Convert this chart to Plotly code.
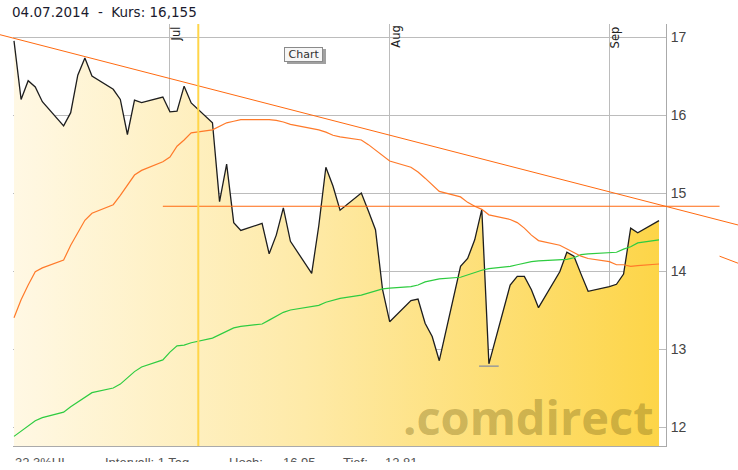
import pandas as pd
import plotly.graph_objects as go

# ---------------- data ----------------
dates = [
    "2014-06-09", "2014-06-10", "2014-06-11", "2014-06-12", "2014-06-13",
    "2014-06-16", "2014-06-17", "2014-06-18", "2014-06-19", "2014-06-20",
    "2014-06-23", "2014-06-24", "2014-06-25", "2014-06-26", "2014-06-27",
    "2014-06-30",
    "2014-07-01", "2014-07-02", "2014-07-03", "2014-07-04",
    "2014-07-07", "2014-07-08", "2014-07-09", "2014-07-10", "2014-07-11",
    "2014-07-14", "2014-07-15", "2014-07-16", "2014-07-17", "2014-07-18",
    "2014-07-21", "2014-07-22", "2014-07-23", "2014-07-24", "2014-07-25",
    "2014-07-28", "2014-07-29", "2014-07-30", "2014-07-31",
    "2014-08-01",
    "2014-08-04", "2014-08-05", "2014-08-06", "2014-08-07", "2014-08-08",
    "2014-08-11", "2014-08-12", "2014-08-13", "2014-08-14", "2014-08-15",
    "2014-08-18", "2014-08-19", "2014-08-20", "2014-08-21", "2014-08-22",
    "2014-08-25", "2014-08-26", "2014-08-27", "2014-08-28", "2014-08-29",
    "2014-09-01", "2014-09-02", "2014-09-03", "2014-09-04", "2014-09-05",
    "2014-09-08",
]
price = [
    16.95, 16.20, 16.44, 16.36, 16.17,
    15.86, 16.03, 16.51, 16.73, 16.50,
    16.33, 16.20, 15.75, 16.19, 16.16,
    16.23,
    16.04, 16.05, 16.37, 16.155,
    15.90, 14.89, 15.37, 14.62, 14.52,
    14.61, 14.22, 14.46, 14.81, 14.38,
    13.97, 14.58, 15.33, 15.09, 14.78,
    15.00, 14.77, 14.53, 13.76,
    13.35,
    13.62, 13.64, 13.33, 13.16, 12.85,
    14.06, 14.16, 14.40, 14.79, 12.81,
    13.82, 13.93, 13.93, 13.76, 13.53,
    13.99, 14.24, 14.19, 13.96, 13.74,
    13.80, 13.83, 13.96, 14.55, 14.49,
    14.645,
]
ma_orange = [
    13.40, 13.63, 13.82, 13.99, 14.04,
    14.14, 14.33, 14.50, 14.65, 14.74,
    14.85, 14.97, 15.10, 15.23, 15.29,
    15.40,
    15.46, 15.60, 15.68, 15.77,
    15.81, 15.85, 15.90, 15.92, 15.94,
    15.94, 15.94, 15.93, 15.91, 15.88,
    15.83, 15.81, 15.78, 15.74, 15.72,
    15.68, 15.62, 15.55, 15.47,
    15.41,
    15.33, 15.27, 15.19, 15.10, 15.02,
    14.95, 14.88, 14.83, 14.79, 14.72,
    14.66, 14.62, 14.55, 14.46, 14.39,
    14.33, 14.28, 14.23, 14.19, 14.16,
    14.12, 14.08, 14.08, 14.06, 14.07,
    14.09,
]
ma_green = [
    11.88, 11.95, 12.01, 12.08, 12.12,
    12.19, 12.26, 12.32, 12.38, 12.44,
    12.50, 12.55, 12.63, 12.71, 12.77,
    12.86,
    12.96, 13.04, 13.05, 13.08,
    13.14, 13.18, 13.23, 13.27, 13.29,
    13.32, 13.37, 13.42, 13.47, 13.50,
    13.55, 13.56, 13.60, 13.63, 13.65,
    13.69, 13.72, 13.74, 13.77,
    13.78,
    13.80, 13.82, 13.86, 13.88, 13.90,
    13.92, 13.95, 13.99, 14.01, 14.03,
    14.06, 14.08, 14.10, 14.12, 14.13,
    14.15, 14.15, 14.17, 14.21, 14.22,
    14.23, 14.24, 14.28, 14.31, 14.36,
    14.40,
]

# drawn trend lines (date, value end points)
resist_dates = ["2014-06-07 00:00", "2014-09-19 03:30"]
resist_vals = [17.03, 14.59]
support_dates = ["2014-06-30 00:00", "2014-09-16 13:00"]
support_vals = [14.83, 14.83]
lower_dates = ["2014-09-16 13:00", "2014-09-19 03:30"]
lower_vals = [14.19, 14.10]

hoch_date, hoch = "2014-06-09", 16.95
tief_date, tief = "2014-08-15", 12.81
cursor_date = "2014-07-05"
header_text = "04.07.2014&nbsp;&nbsp;-&nbsp;&nbsp;Kurs:&nbsp;16,155"

month_ticks = ["2014-07-01", "2014-08-01", "2014-09-01"]
month_labels = ["Jul", "Aug", "Sep"]
y_ticks = [12, 13, 14, 15, 16, 17]
y_labels = ["12", "13", "14", "15", "16", "17"]

# ---------------- geometry ----------------
W, H = 738, 462
PX_DAY = 7.088
X0 = pd.Timestamp("2014-06-09")
X0_PX = 14.0
Y17_PX = 37.0
PX_UNIT = 78.0
L, R, T, B = 13, 666, 24, 446


def px_to_date(px):
    return (X0 + pd.Timedelta(days=(px - X0_PX) / PX_DAY)).strftime("%Y-%m-%d %H:%M:%S")


def py_to_val(py):
    return 17 - (py - Y17_PX) / PX_UNIT


def fx(px):
    return px / W


def fy(py):
    return (H - py) / H


GRID = "#bcbcbc"

fig = go.Figure()

# price area with gradient fill
fig.add_trace(go.Scatter(
    x=dates, y=price, mode="lines",
    line=dict(color="#1e1e1e", width=1.3),
    fill="tozeroy",
    fillgradient=dict(type="horizontal",
                      colorscale=[[0, "#fff8e4"], [0.45, "#feeaa8"], [1, "#fdd548"]]),
    hoverinfo="skip", showlegend=False,
))
fig.add_trace(go.Scatter(
    x=dates, y=ma_green, mode="lines",
    line=dict(color="#2ecc40", width=1.2), hoverinfo="skip", showlegend=False,
))
fig.add_trace(go.Scatter(
    x=dates, y=ma_orange, mode="lines",
    line=dict(color="#ff7a2a", width=1.2), hoverinfo="skip", showlegend=False,
))
# low marker
fig.add_trace(go.Scatter(
    x=[tief_date], y=[tief - 0.03], mode="markers",
    marker=dict(symbol="line-ew", size=14, line=dict(color="#9a9a9a", width=1.5)),
    hoverinfo="skip", showlegend=False,
))

# trend lines on a full-page overlay axis pair
for xs, ys in [(resist_dates, resist_vals), (support_dates, support_vals), (lower_dates, lower_vals)]:
    fig.add_trace(go.Scatter(
        x=xs, y=ys, mode="lines", xaxis="x2", yaxis="y2",
        line=dict(color="#ff6a10", width=1), hoverinfo="skip", showlegend=False,
    ))

fig.add_shape(type="line", xref="x", yref="paper", x0=cursor_date, x1=cursor_date,
              y0=fy(B), y1=fy(T), line=dict(color="#ffd54a", width=2), layer="above")

# month labels
for d, lab in zip(month_ticks, month_labels):
    fig.add_annotation(x=d, xref="x", y=fy(T), yref="paper", text=lab,
                       textangle=-90, showarrow=False, xanchor="left", yanchor="top",
                       xshift=-3, font=dict(family="DejaVu Sans", size=11.5, color="#222"))

# header
fig.add_annotation(x=fx(10), y=fy(12), xref="paper", yref="paper", text=header_text,
                   showarrow=False, xanchor="left", yanchor="middle",
                   font=dict(family="DejaVu Sans", size=13.5, color="#1a1a2e"))

# Chart button with shadow
btn_text = "&nbsp;Chart&nbsp;"
fig.add_annotation(x=fx(286.5), y=fy(49), xref="paper", yref="paper", text=btn_text,
                   showarrow=False, xanchor="left", yanchor="top",
                   font=dict(family="DejaVu Sans", size=11, color="#a0a0a0"),
                   bgcolor="#a0a0a0", borderpad=0, borderwidth=1, bordercolor="#a0a0a0")
fig.add_annotation(x=fx(284), y=fy(46.5), xref="paper", yref="paper", text=btn_text,
                   showarrow=False, xanchor="left", yanchor="top",
                   font=dict(family="DejaVu Sans", size=11, color="#303030"),
                   bgcolor="#f6f6f6", bordercolor="#8a8a8a", borderwidth=1, borderpad=0)

# watermark
fig.add_annotation(x=fx(656), y=fy(451), xref="paper", yref="paper", text=".comdirect",
                   showarrow=False, xanchor="right", yanchor="bottom",
                   font=dict(family="Open Sans", size=47, color="rgba(130,110,30,0.40)",
                             weight=700))

# footer
footer = [(13, "32.3%HL"), (103, "Intervall: 1 Tag"), (227, "Hoch:"),
          (281, f"{hoch:.2f}"), (341, "Tief:"), (383, f"{tief:.2f}")]
for px, txt in footer:
    fig.add_annotation(x=fx(px), y=fy(452.5), xref="paper", yref="paper", text=txt,
                       showarrow=False, xanchor="left", yanchor="top",
                       font=dict(family="Liberation Sans", size=13, color="#555"))

x_lo = px_to_date(L)
x_hi = px_to_date(R)
fig.update_layout(
    width=W, height=H,
    margin=dict(l=0, r=0, t=0, b=0),
    paper_bgcolor="white", plot_bgcolor="rgba(0,0,0,0)",
    hovermode=False, dragmode=False,
    xaxis=dict(domain=[fx(L), fx(R)], range=[x_lo, x_hi], type="date",
               tickvals=month_ticks, showticklabels=False, ticks="",
               showgrid=True, gridcolor=GRID, gridwidth=1,
               showline=True, linecolor="#aaaaaa", linewidth=1, zeroline=False),
    yaxis=dict(domain=[fy(B), fy(T)], range=[py_to_val(B), py_to_val(T)],
               side="right", tickvals=y_ticks, ticktext=y_labels,
               ticks="outside", ticklen=1, tickcolor="rgba(0,0,0,0)",
               tickfont=dict(family="Liberation Sans", size=14, color="#444"),
               showgrid=True, gridcolor=GRID, gridwidth=1,
               showline=True, linecolor="#aaaaaa", linewidth=1, zeroline=False),
    xaxis2=dict(domain=[0, 1], range=[px_to_date(0), px_to_date(W)], type="date",
                anchor="y2", visible=False, fixedrange=True),
    yaxis2=dict(domain=[0, 1], range=[py_to_val(H), py_to_val(0)],
                anchor="x2", visible=False, fixedrange=True),
    showlegend=False,
)

fig.write_html("out.html",
               config={"displayModeBar": False, "staticPlot": True},
               post_script="document.body.style.margin='0';document.body.style.overflow='hidden';")
